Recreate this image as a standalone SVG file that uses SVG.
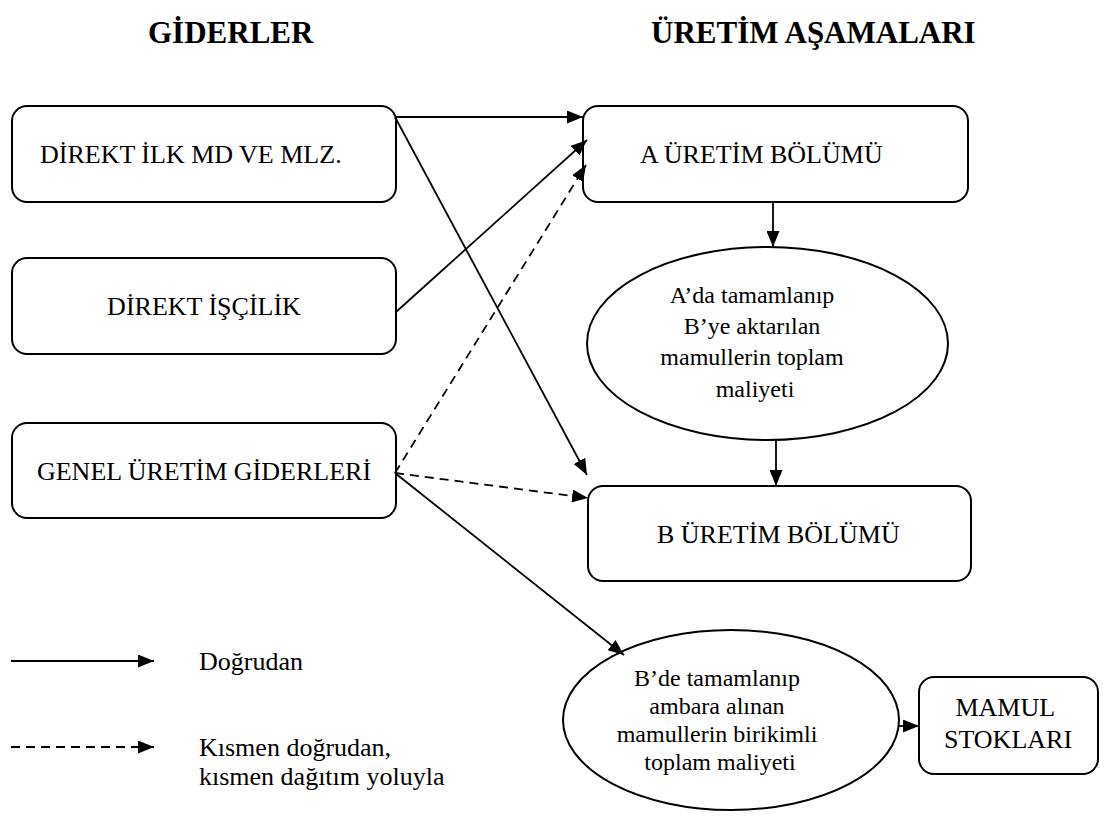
<svg xmlns="http://www.w3.org/2000/svg" width="1116" height="818" viewBox="0 0 1116 818">
  <style>
    .box { fill: #fff; stroke: #000; stroke-width: 2; }
    .lbl { font-family: "Liberation Serif", "Times New Roman", serif; font-size: 26px; fill: #000; }
    .small { font-family: "Liberation Serif", "Times New Roman", serif; font-size: 24px; fill: #000; }
    .head { font-family: "Liberation Serif", "Times New Roman", serif; font-size: 31px; font-weight: bold; fill: #000; }
    .edge { fill: none; stroke: #000; stroke-width: 1.8; marker-end: url(#arrow); }
    .dash { stroke-dasharray: 9 6; }
  </style>
  <defs>
    <marker id="arrow" markerUnits="userSpaceOnUse" markerWidth="16" markerHeight="13" refX="16" refY="6.5" orient="auto">
      <path d="M0,0 L16,6.5 L0,13 z" fill="#000"/>
    </marker>
    <clipPath id="legendClip">
      <rect x="0" y="0" width="1116" height="792"/>
    </clipPath>
  </defs>
  <rect width="1116" height="818" fill="#fff"/>

  <!-- column headings -->
  <text class="head" x="148" y="43">GİDERLER</text>
  <text class="head" x="651" y="43">ÜRETİM AŞAMALARI</text>

  <!-- cost nodes -->
  <g id="direkt-ilk-md">
    <rect class="box" x="12" y="106" width="384" height="96" rx="15"/>
    <text class="lbl" x="40" y="163">DİREKT İLK MD VE MLZ.</text>
  </g>
  <g id="direkt-iscilik">
    <rect class="box" x="12" y="258" width="384" height="96" rx="15"/>
    <text class="lbl" x="204" y="315" text-anchor="middle">DİREKT İŞÇİLİK</text>
  </g>
  <g id="genel-uretim">
    <rect class="box" x="12" y="423" width="384" height="95" rx="15"/>
    <text class="lbl" x="204" y="480" text-anchor="middle">GENEL ÜRETİM GİDERLERİ</text>
  </g>

  <!-- production stage nodes -->
  <g id="a-uretim">
    <rect class="box" x="583" y="106" width="385" height="96" rx="15"/>
    <text class="lbl" x="640" y="163">A ÜRETİM BÖLÜMÜ</text>
  </g>
  <g id="a-tamamlanan">
    <ellipse class="box" cx="767.5" cy="343.5" rx="180.5" ry="96.5"/>
    <text class="small" text-anchor="middle">
      <tspan x="755" y="303">A’da tamamlanıp</tspan>
      <tspan x="755" y="334">B’ye aktarılan</tspan>
      <tspan x="755" y="365">mamullerin toplam</tspan>
      <tspan x="755" y="397">maliyeti</tspan>
    </text>
  </g>
  <g id="b-uretim">
    <rect class="box" x="588" y="486" width="383" height="95" rx="15"/>
    <text class="lbl" x="657" y="543">B ÜRETİM BÖLÜMÜ</text>
  </g>
  <g id="b-tamamlanan">
    <ellipse class="box" cx="731" cy="720" rx="168" ry="90"/>
    <text class="small" text-anchor="middle">
      <tspan x="720" y="686">B’de tamamlanıp</tspan>
      <tspan x="720" y="714">ambara alınan</tspan>
      <tspan x="720" y="742">mamullerin birikimli</tspan>
      <tspan x="720" y="770">toplam maliyeti</tspan>
    </text>
  </g>
  <g id="mamul-stoklari">
    <rect class="box" x="919" y="677" width="179" height="97" rx="15"/>
    <text class="lbl" text-anchor="middle">
      <tspan x="1008" y="716">MAMUL</tspan>
      <tspan x="1008" y="748">STOKLARI</tspan>
    </text>
  </g>

  <!-- connectors -->
  <g id="connectors">
    <line class="edge" x1="395" y1="117" x2="583" y2="117"/>
    <line class="edge" x1="395" y1="117" x2="587" y2="475"/>
    <line class="edge" x1="396" y1="312" x2="587" y2="140"/>
    <line class="edge dash" x1="395" y1="473" x2="586" y2="165"/>
    <line class="edge dash" x1="395" y1="473" x2="588" y2="498"/>
    <line class="edge" x1="395" y1="473" x2="624" y2="655"/>
    <line class="edge" x1="773" y1="202" x2="773" y2="247"/>
    <line class="edge" x1="776" y1="440" x2="776" y2="486"/>
    <line class="edge" x1="899" y1="726" x2="919" y2="726"/>
  </g>

  <!-- legend -->
  <g id="legend">
    <line class="edge" x1="11" y1="661" x2="154" y2="661"/>
    <text class="lbl" x="199" y="670">Doğrudan</text>
    <line class="edge dash" x1="11" y1="747" x2="154" y2="747"/>
    <text class="lbl" clip-path="url(#legendClip)">
      <tspan x="199" y="756">Kısmen doğrudan,</tspan>
      <tspan x="199" y="785">kısmen dağıtım yoluyla</tspan>
    </text>
  </g>
</svg>
